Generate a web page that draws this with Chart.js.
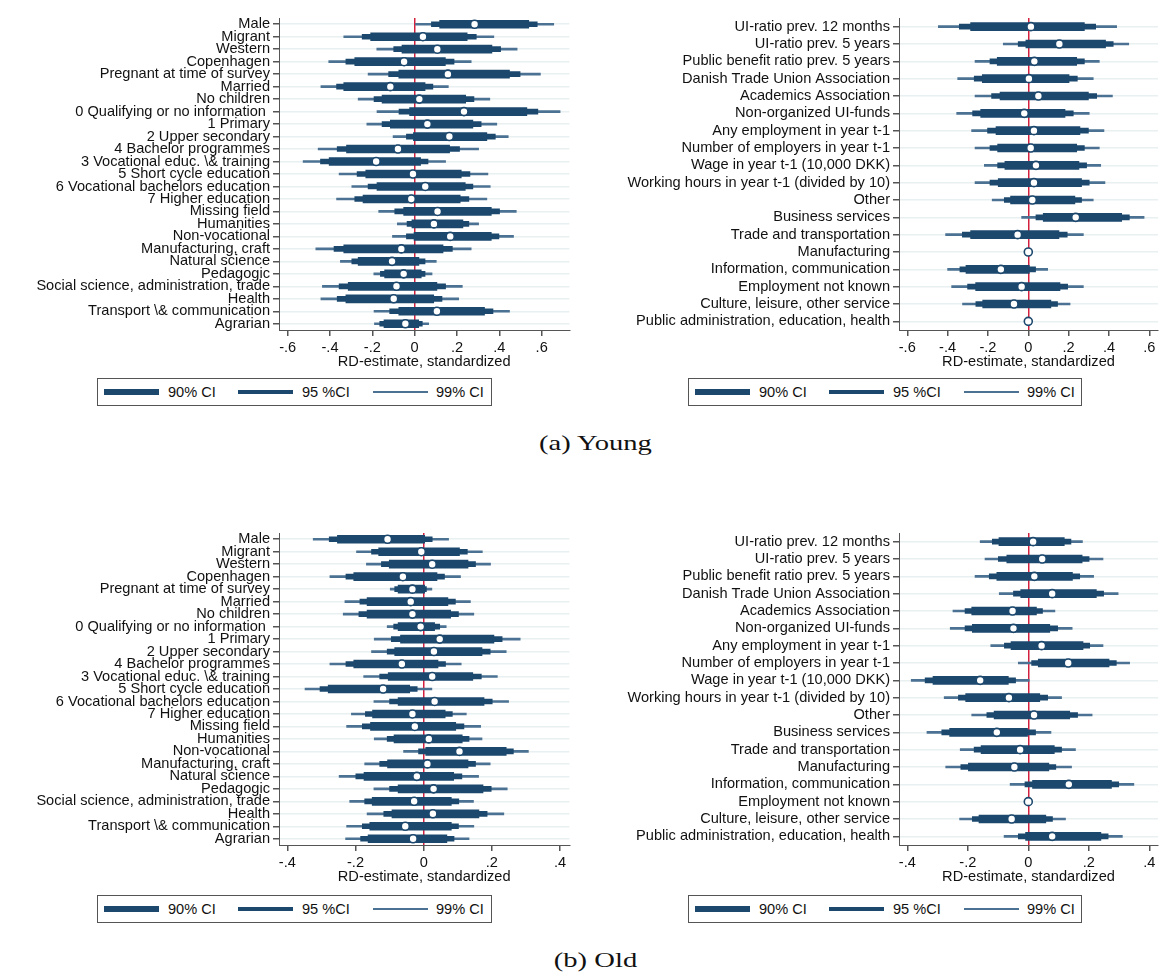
<!DOCTYPE html>
<html>
<head>
<meta charset="utf-8">
<script src="https://cdn.jsdelivr.net/npm/chart.js@4"></script>
<style>
  body { margin: 0; background: #fff; }
  #page { position: relative; width: 1170px; height: 978px; background: #fff; overflow: hidden; }
  canvas { position: absolute; }
  .legend {
    position: absolute; height: 26px; border: 1px solid #555; background: #fff;
    font-family: 'Liberation Sans', Arial, sans-serif; font-size: 14.6px; color: #111;
  }
  .legend .sample { position: absolute; width: 55px; top: 50%; }
  .legend .txt { position: absolute; top: 50%; transform: translateY(-50%); white-space: nowrap; }
  .caption {
    position: absolute; left: 0; width: 1170px; text-align: center;
    font-family: 'Liberation Serif', 'Times New Roman', serif; font-size: 22px; color: #111;
    transform: scaleX(1.3); transform-origin: 600px 0;
  }
</style>
</head>
<body>
<div id="page">
  <canvas id="youngPers" width="575" height="372" style="left:0;top:0"></canvas>
  <canvas id="youngLab" width="580" height="372" style="left:585px;top:0"></canvas>
  <canvas id="oldPers" width="575" height="372" style="left:0;top:515px"></canvas>
  <canvas id="oldLab" width="580" height="372" style="left:585px;top:515px"></canvas>
  <div class="caption" style="top:430px;left:15px">(a) Young</div>
  <div class="caption" style="top:947px;left:15px">(b) Old</div>
</div>
<script>
// row labels
const personalLabels = ['Male', 'Migrant', 'Western', 'Copenhagen', 'Pregnant at time of survey', 'Married',
  'No children', '0 Qualifying or no information ', '1 Primary', '2 Upper secondary', '4 Bachelor programmes',
  '3 Vocational educ. \\& training', '5 Short cycle education', '6 Vocational bachelors education',
  '7 Higher education', 'Missing field', 'Humanities', 'Non-vocational', 'Manufacturing, craft',
  'Natural science', 'Pedagogic', 'Social science, administration, trade', 'Health',
  'Transport \\& communication', 'Agrarian'];
const labourLabels = ['UI-ratio prev. 12 months', 'UI-ratio prev. 5 years', 'Public benefit ratio prev. 5 years',
  'Danish Trade Union Association', 'Academics Association', 'Non-organized UI-funds',
  'Any employment in year t-1', 'Number of employers in year t-1', 'Wage in year t-1 (10,000 DKK)',
  'Working hours in year t-1 (divided by 10)', 'Other', 'Business services', 'Trade and transportation',
  'Manufacturing', 'Information, communication', 'Employment not known', 'Culture, leisure, other service',
  'Public administration, education, health'];

// x ticks
const youngTicks = [-0.6, -0.4, -0.2, 0, 0.2, 0.4, 0.6];
const youngTickLabels = ['-.6', '-.4', '-.2', '0', '.2', '.4', '.6'];
const oldTicks = [-0.4, -0.2, 0, 0.2, 0.4];
const oldTickLabels = ['-.4', '-.2', '0', '.2', '.4'];

// (a) Young - personal characteristics
const youngPersEst = [0.283, 0.039, 0.107, -0.050, 0.157, -0.115, 0.022, 0.233, 0.060, 0.164, -0.079, -0.182,
  -0.008, 0.050, -0.016, 0.108, 0.091, 0.168, -0.063, -0.107, -0.052, -0.086, -0.099, 0.105, -0.044];
const youngPersCi90 = [[0.118,0.539],[-0.208,0.248],[-0.060,0.365],[-0.283,0.145],[-0.075,0.448],[-0.335,0.049],
  [-0.154,0.241],[-0.024,0.530],[-0.115,0.275],[-0.006,0.341],[-0.322,0.165],[-0.404,0.028],[-0.231,0.220],
  [-0.178,0.239],[-0.244,0.215],[-0.052,0.362],[-0.013,0.228],[-0.003,0.362],[-0.335,0.134],[-0.267,0.020],
  [-0.142,0.031],[-0.314,0.105],[-0.325,0.090],[-0.075,0.330],[-0.145,0.019]];
const youngPersCi95 = [[0.079,0.579],[-0.248,0.291],[-0.099,0.406],[-0.325,0.186],[-0.123,0.498],[-0.369,0.086],
  [-0.192,0.280],[-0.074,0.582],[-0.154,0.314],[-0.039,0.381],[-0.366,0.212],[-0.445,0.063],[-0.272,0.261],
  [-0.220,0.275],[-0.283,0.256],[-0.094,0.401],[-0.036,0.256],[-0.039,0.398],[-0.381,0.178],[-0.297,0.049],
  [-0.162,0.049],[-0.357,0.146],[-0.366,0.129],[-0.118,0.370],[-0.165,0.036]];
const youngPersCi99 = [[0.000,0.657],[-0.335,0.374],[-0.179,0.484],[-0.406,0.267],[-0.220,0.594],[-0.443,0.159],
  [-0.267,0.355],[-0.178,0.687],[-0.226,0.388],[-0.102,0.442],[-0.456,0.302],[-0.527,0.146],[-0.357,0.346],
  [-0.297,0.357],[-0.369,0.341],[-0.170,0.480],[-0.082,0.302],[-0.105,0.467],[-0.467,0.267],[-0.351,0.102],
  [-0.193,0.082],[-0.436,0.225],[-0.443,0.208],[-0.192,0.448],[-0.190,0.066]];

// (a) Young - labour market
const youngLabEst = [0.013, 0.154, 0.030, 0.003, 0.050, -0.020, 0.028, 0.012, 0.038, 0.028, 0.020, 0.235,
  -0.053, 0, -0.136, -0.033, -0.071, 0];
const youngLabCi90 = [[-0.286,0.278],[-0.012,0.383],[-0.154,0.240],[-0.228,0.202],[-0.140,0.298],[-0.236,0.182],
  [-0.160,0.256],[-0.152,0.240],[-0.116,0.251],[-0.149,0.264],[-0.088,0.231],[0.074,0.463],[-0.286,0.152],null,
  [-0.309,0.005],[-0.261,0.157],[-0.226,0.112],null];
const youngLabCi95 = [[-0.342,0.334],[-0.050,0.421],[-0.190,0.278],[-0.268,0.243],[-0.182,0.339],[-0.276,0.223],
  [-0.202,0.298],[-0.190,0.278],[-0.152,0.289],[-0.190,0.302],[-0.119,0.264],[0.038,0.501],[-0.327,0.193],null,
  [-0.339,0.036],[-0.301,0.195],[-0.260,0.145],null];
const youngLabCi99 = [[-0.446,0.438],[-0.124,0.498],[-0.264,0.352],[-0.350,0.322],[-0.264,0.417],[-0.355,0.302],
  [-0.281,0.375],[-0.264,0.352],[-0.218,0.359],[-0.264,0.380],[-0.179,0.322],[-0.033,0.574],[-0.410,0.273],null,
  [-0.400,0.096],[-0.380,0.273],[-0.326,0.207],null];

// (b) Old - personal characteristics
const oldPersEst = [-0.106, -0.007, 0.025, -0.061, -0.033, -0.038, -0.033, -0.009, 0.047, 0.030, -0.064, 0.025,
  -0.119, 0.032, -0.033, -0.026, 0.015, 0.105, 0.011, -0.020, 0.029, -0.028, 0.027, -0.054, -0.031];
const oldPersCi90 = [[-0.253,0.003],[-0.132,0.105],[-0.101,0.130],[-0.205,0.039],[-0.075,0.003],[-0.166,0.071],
  [-0.166,0.079],[-0.075,0.032],[-0.068,0.206],[-0.085,0.171],[-0.205,0.042],[-0.104,0.144],[-0.280,-0.041],
  [-0.075,0.177],[-0.150,0.063],[-0.156,0.094],[-0.087,0.113],[0.006,0.242],[-0.106,0.130],[-0.175,0.088],
  [-0.075,0.174],[-0.151,0.081],[-0.093,0.162],[-0.158,0.081],[-0.163,0.068]];
const oldPersCi95 = [[-0.277,0.025],[-0.153,0.128],[-0.124,0.152],[-0.228,0.061],[-0.085,0.008],[-0.187,0.093],
  [-0.190,0.102],[-0.088,0.047],[-0.095,0.230],[-0.107,0.195],[-0.228,0.064],[-0.129,0.169],[-0.304,-0.019],
  [-0.100,0.201],[-0.171,0.084],[-0.180,0.118],[-0.107,0.133],[-0.015,0.263],[-0.129,0.152],[-0.199,0.112],
  [-0.100,0.198],[-0.173,0.103],[-0.117,0.186],[-0.180,0.102],[-0.185,0.089]];
const oldPersCi99 = [[-0.324,0.073],[-0.197,0.172],[-0.168,0.196],[-0.275,0.108],[-0.098,0.024],[-0.231,0.137],
  [-0.236,0.147],[-0.107,0.066],[-0.145,0.283],[-0.153,0.242],[-0.275,0.110],[-0.176,0.216],[-0.348,0.024],
  [-0.146,0.249],[-0.212,0.125],[-0.226,0.167],[-0.145,0.171],[-0.059,0.307],[-0.173,0.195],[-0.248,0.161],
  [-0.146,0.245],[-0.217,0.146],[-0.166,0.235],[-0.226,0.147],[-0.229,0.133]];

// (b) Old - labour market
const oldLabEst = [0.016, 0.046, 0.020, 0.079, -0.052, -0.049, 0.044, 0.132, -0.159, -0.064, 0.019, -0.104,
  -0.027, -0.046, 0.134, 0, -0.055, 0.079];
const oldLabCi90 = [[-0.097,0.119],[-0.071,0.178],[-0.104,0.146],[-0.025,0.225],[-0.187,0.027],[-0.185,0.071],
  [-0.057,0.181],[0.033,0.267],[-0.315,-0.066],[-0.207,0.038],[-0.113,0.137],[-0.260,0.000],[-0.156,0.086],
  [-0.198,0.068],[0.014,0.275],null,[-0.163,0.058],[-0.009,0.240]];
const oldLabCi95 = [[-0.119,0.141],[-0.099,0.201],[-0.129,0.170],[-0.049,0.249],[-0.209,0.047],[-0.209,0.097],
  [-0.079,0.203],[0.011,0.291],[-0.341,-0.042],[-0.231,0.064],[-0.137,0.163],[-0.286,0.024],[-0.179,0.110],
  [-0.223,0.091],[-0.011,0.299],null,[-0.185,0.080],[-0.033,0.264]];
const oldLabCi99 = [[-0.159,0.179],[-0.143,0.247],[-0.176,0.216],[-0.096,0.297],[-0.249,0.088],[-0.258,0.145],
  [-0.124,0.247],[-0.033,0.335],[-0.387,0.003],[-0.278,0.110],[-0.187,0.211],[-0.335,0.075],[-0.225,0.156],
  [-0.273,0.143],[-0.060,0.349],null,[-0.227,0.123],[-0.080,0.311]];

const NAVY = '#1c486e';
const THIN = '#4b7293';
const RED = '#d3203f';
const FONT = "'Liberation Sans', Arial, sans-serif";
const FSIZE = 14.6;

const makePanel = (id, labels, est, ci90, ci95, ci99, xMin, xMax, ticks, tickLabels, yWidth, padRight) => {
  const bar = (label, data, thick, color, order) => ({
    type: 'bar', label, data, indexAxis: 'y', grouped: false, order,
    backgroundColor: color, borderWidth: 0, barThickness: thick, borderSkipped: false
  });
  new Chart(document.getElementById(id), {
    type: 'bar',
    data: {
      labels: labels,
      datasets: [
        {
          type: 'line', label: 'estimate', data: est, indexAxis: 'y', showLine: false, order: 0,
          pointRadius: 4, pointBackgroundColor: '#fff', pointBorderColor: NAVY, pointBorderWidth: 1.6
        },
        bar('90% CI', ci90, 8, NAVY, 1),
        bar('95 %CI', ci95, 5, NAVY, 2),
        bar('99% CI', ci99, 2, THIN, 3)
      ]
    },
    options: {
      indexAxis: 'y',
      responsive: false,
      animation: false,
      events: [],
      layout: { padding: { top: 18, right: padRight, left: 0, bottom: 0 } },
      plugins: { legend: { display: false }, tooltip: { enabled: false } },
      scales: {
        y: {
          type: 'category',
          offset: true,
          afterFit: (s) => { s.width = yWidth; },
          border: { display: true, color: '#555', width: 1 },
          grid: { offset: false, color: '#e9f0f2', lineWidth: 1.5, tickColor: '#555', tickLength: 6 },
          ticks: { autoSkip: false, color: '#111', padding: 3, font: { family: FONT, size: FSIZE } }
        },
        x: {
          type: 'linear',
          min: xMin, max: xMax,
          afterFit: (s) => { s.height = 42; },
          afterBuildTicks: (s) => { s.ticks = ticks.map(v => ({ value: v })); },
          border: { display: true, color: '#555', width: 1 },
          grid: {
            color: (c) => (c.tick && c.tick.value === 0 ? RED : 'rgba(0,0,0,0)'),
            lineWidth: 1.5, tickColor: '#555', tickLength: 6
          },
          ticks: {
            color: '#111', padding: 3, maxRotation: 0, font: { family: FONT, size: FSIZE },
            callback: (v, i) => tickLabels[i]
          },
          title: {
            display: true, text: 'RD-estimate, standardized', color: '#111',
            font: { family: FONT, size: FSIZE }, padding: { top: 0, bottom: 1 }
          }
        }
      }
    }
  });
};

makePanel('youngPers', personalLabels, youngPersEst, youngPersCi90, youngPersCi95, youngPersCi99,
  -0.641, 0.731, youngTicks, youngTickLabels, 279, 5);
makePanel('youngLab', labourLabels, youngLabEst, youngLabCi90, youngLabCi95, youngLabCi99,
  -0.641, 0.643, youngTicks, youngTickLabels, 314, 7);
makePanel('oldPers', personalLabels, oldPersEst, oldPersCi90, oldPersCi95, oldPersCi99,
  -0.4243, 0.4273, oldTicks, oldTickLabels, 279, 5);
makePanel('oldLab', labourLabels, oldLabEst, oldLabCi90, oldLabCi95, oldLabCi99,
  -0.4274, 0.4288, oldTicks, oldTickLabels, 314, 7);

// legends below each panel
const legendItems = [
  { text: '90% CI', h: 6.5, color: NAVY, lineX: 6, textX: 70 },
  { text: '95 %CI', h: 4, color: NAVY, lineX: 140, textX: 204 },
  { text: '99% CI', h: 1.6, color: THIN, lineX: 275, textX: 338 }
];
const legendBoxes = [
  { left: 97, top: 378, width: 393 },
  { left: 688, top: 378, width: 392 },
  { left: 97, top: 895, width: 393 },
  { left: 688, top: 895, width: 392 }
];
const page = document.getElementById('page');
legendBoxes.forEach(b => {
  const box = document.createElement('div');
  box.className = 'legend';
  box.style.left = b.left + 'px';
  box.style.top = b.top + 'px';
  box.style.width = b.width + 'px';
  legendItems.forEach(it => {
    const s = document.createElement('div');
    s.className = 'sample';
    s.style.left = it.lineX + 'px';
    s.style.height = it.h + 'px';
    s.style.marginTop = (-it.h / 2) + 'px';
    s.style.background = it.color;
    box.appendChild(s);
    const t = document.createElement('div');
    t.className = 'txt';
    t.style.left = it.textX + 'px';
    t.textContent = it.text;
    box.appendChild(t);
  });
  page.appendChild(box);
});
</script>
</body>
</html>
